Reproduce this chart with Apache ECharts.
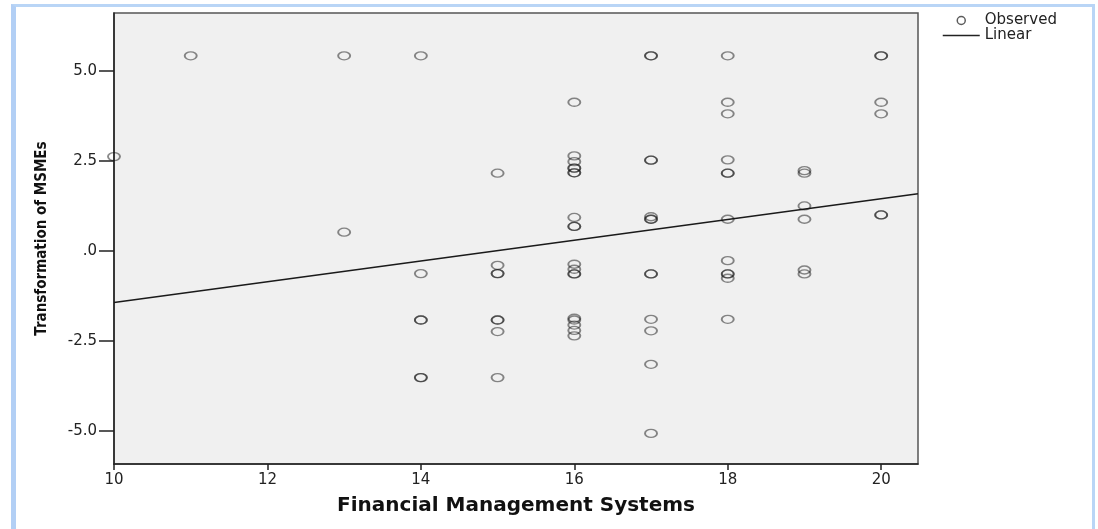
<!DOCTYPE html>
<html>
<head>
<meta charset="utf-8">
<script src="https://cdn.jsdelivr.net/npm/echarts@6/dist/echarts.min.js"></script>
<style>
  html, body { margin: 0; padding: 0; background: #ffffff; }
  #frame { position: absolute; left: 11px; top: 4px; width: 1084px; height: 540px;
           border-top: 3px solid #b9d5f6; border-left: 5px solid #b2cff5; border-right: 3px solid #b9d5f6;
           box-sizing: border-box; }
  #chart { position: absolute; left: 0; top: 0; width: 1098px; height: 529px; }
</style>
</head>
<body>
<div id="frame"></div>
<div id="chart"></div>
<script>
// Observed points: Financial Management Systems (x) vs Transformation of MSMEs (y)
var obsX = [
  10,
  11,
  13, 13,
  14, 14, 14, 14, 14, 14,
  15, 15, 15, 15, 15, 15, 15, 15,
  16, 16, 16, 16, 16, 16, 16, 16, 16, 16, 16, 16, 16, 16, 16, 16, 16, 16, 16,
  17, 17, 17, 17, 17, 17, 17, 17, 17, 17, 17, 17, 17,
  18, 18, 18, 18, 18, 18, 18, 18, 18, 18, 18, 18,
  19, 19, 19, 19, 19, 19,
  20, 20, 20, 20, 20, 20
];
var obsY = [
  2.62,
  5.42,
  5.42, 0.52,
  5.42, -0.63, -1.92, -1.92, -3.52, -3.52,
  2.16, -0.40, -0.63, -0.63, -1.92, -1.92, -2.24, -3.52,
  4.13, 2.64, 2.48, 2.30, 2.30, 2.17, 0.93, 0.68, 0.68, -0.37, -0.51, -0.64, -0.64, -1.87, -1.92, -2.06, -2.21, -2.36, 2.17,
  5.42, 5.42, 2.52, 2.52, 0.95, 0.88, 0.88, -0.64, -0.64, -1.90, -2.22, -3.15, -5.07,
  5.42, 4.13, 3.81, 2.53, 2.16, 2.16, 0.88, -0.27, -0.64, -0.64, -0.76, -1.90,
  2.23, 2.16, 1.25, 0.88, -0.53, -0.64,
  5.42, 5.42, 4.13, 3.81, 1.00, 1.00
];
// Fitted linear line endpoints
var fitX = [10, 20.48];
var fitY = [-1.43, 1.59];
// Axis ticks
var xTicks = [10, 12, 14, 16, 18, 20];
var yTicks = [-5, -2.5, 0, 2.5, 5];
var yTickLabels = ['-5.0', '-2.5', '.0', '2.5', '5.0'];
var xName = 'Financial Management Systems';
var yName = 'Transformation of MSMEs';
var legendNames = ['Observed', 'Linear'];

var obsData = obsX.map(function (x, i) { return [x, obsY[i]]; });
var fitData = fitX.map(function (x, i) { return [x, fitY[i]]; });

var chart = echarts.init(document.getElementById('chart'), null, { renderer: 'canvas' });
chart.setOption({
  backgroundColor: 'transparent',
  animation: false,
  grid: {
    left: 114, top: 13, width: 804, height: 451,
    show: true, backgroundColor: '#f0f0f0', borderColor: '#555555', borderWidth: 1.5
  },
  legend: {
    orient: 'vertical', left: 942, top: 13, padding: 0, itemGap: 0,
    itemWidth: 37, itemHeight: 8,
    textStyle: { fontFamily: 'DejaVu Sans', fontSize: 15, color: '#222', lineHeight: 13, padding: [0, 0, 0, 0] },
    data: [
      { name: legendNames[0], icon: 'circle', itemStyle: { color: 'transparent', borderColor: '#333', borderWidth: 1.5 } },
      { name: legendNames[1], itemStyle: { color: 'transparent', borderWidth: 0, opacity: 0 }, lineStyle: { color: '#222', width: 1.5, opacity: 1 } }
    ]
  },
  xAxis: {
    type: 'value', min: 10, max: 20.48, interval: 2,
    name: xName, nameLocation: 'middle', nameGap: 32,
    nameTextStyle: { fontFamily: 'DejaVu Sans', fontWeight: 'bold', fontSize: 20, color: '#111' },
    axisLine: { show: true, onZero: false, lineStyle: { color: '#222', width: 1.5 } },
    axisTick: { show: true, length: 6, lineStyle: { color: '#222', width: 1.5 } },
    axisLabel: { fontFamily: 'DejaVu Sans', fontSize: 15, color: '#222', margin: 9,
      showMaxLabel: false,
      formatter: function (v) { return xTicks.indexOf(v) >= 0 ? String(v) : ''; } },
    splitLine: { show: false }
  },
  yAxis: {
    type: 'value', min: -5.92, max: 6.61,
    name: yName, nameLocation: 'middle', nameGap: 64, nameRotate: 90,
    nameTextStyle: { fontFamily: "'Liberation Sans Narrow', 'DejaVu Sans Condensed', sans-serif", fontWeight: 'bold', fontSize: 15, color: '#111' },
    axisLine: { show: true, onZero: false, lineStyle: { color: '#222', width: 1.5 } },
    axisTick: { show: true, length: 15, customValues: yTicks, lineStyle: { color: '#222', width: 1.5 } },
    axisLabel: { fontFamily: 'DejaVu Sans', fontSize: 15, color: '#222', margin: 17,
      customValues: yTicks,
      formatter: function (v) { var i = yTicks.indexOf(v); return i >= 0 ? yTickLabels[i] : ''; } },
    splitLine: { show: false }
  },
  series: [
    {
      name: legendNames[0], type: 'scatter', data: obsData,
      symbol: 'circle', symbolSize: [12, 8], clip: true,
      itemStyle: { color: 'transparent', borderColor: 'rgba(20,20,20,0.62)', borderWidth: 1.6 },
      z: 3
    },
    {
      name: legendNames[1], type: 'line', data: fitData,
      symbol: 'none', showSymbol: false,
      lineStyle: { color: '#1a1a1a', width: 1.5 },
      z: 2
    }
  ]
});
</script>
</body>
</html>
